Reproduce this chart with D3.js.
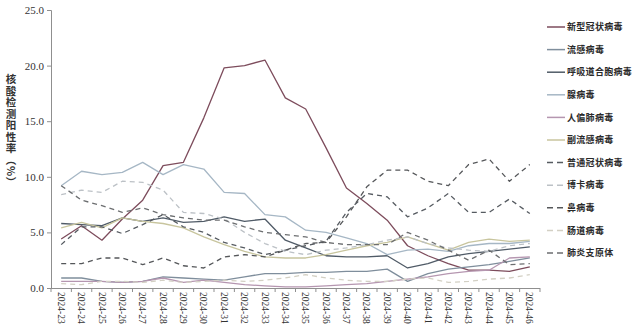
<!DOCTYPE html>
<html>
<head>
<meta charset="utf-8">
<script src="https://cdn.jsdelivr.net/npm/d3@7"></script>
<style>
  html, body { margin: 0; padding: 0; background: #fff; }
  svg { display: block; }
</style>
</head>
<body>
<svg id="chart" width="636" height="326"></svg>
<script>
// Weekly categories (2024 week 23 to week 46)
const weeks = ["2024-23","2024-24","2024-25","2024-26","2024-27","2024-28","2024-29",
  "2024-30","2024-31","2024-32","2024-33","2024-34","2024-35","2024-36","2024-37",
  "2024-38","2024-39","2024-40","2024-41","2024-42","2024-43","2024-44","2024-45","2024-46"];

const yTicks = [0, 5, 10, 15, 20, 25];

const seriesNames = ["新型冠状病毒","流感病毒","呼吸道合胞病毒","腺病毒","人偏肺病毒","副流感病毒",
  "普通冠状病毒","博卡病毒","鼻病毒","肠道病毒","肺炎支原体"];

// Positive rates (%) per week
const covid   = [4.4,5.6,4.3,6.2,7.9,11.0,11.3,15.3,19.8,20.0,20.5,17.1,16.1,12.6,9.0,7.6,6.1,3.8,2.9,2.2,1.6,1.6,1.5,1.9];
const flu     = [0.9,0.9,0.6,0.5,0.6,1.0,0.9,0.8,0.7,1.0,1.3,1.3,1.4,1.4,1.5,1.5,1.7,0.6,1.3,1.7,1.9,2.1,2.4,2.7];
const rsv     = [5.8,5.7,5.6,6.3,6.0,6.3,5.9,6.0,6.4,6.0,6.2,4.3,3.6,2.9,2.8,2.8,2.9,1.8,2.2,2.8,3.1,3.3,3.5,3.7];
const adeno   = [9.2,10.5,10.2,10.4,11.3,10.2,11.1,10.7,8.6,8.5,6.6,6.4,5.2,5.0,4.5,4.0,3.0,3.4,3.5,3.3,3.8,4.0,4.0,4.2];
const hmpv    = [0.6,0.6,0.6,0.5,0.6,0.9,0.5,0.7,0.5,0.3,0.2,0.1,0.1,0.2,0.3,0.4,0.6,0.8,1.0,1.3,1.5,1.6,2.7,2.8];
const paraflu = [5.4,5.9,5.4,6.3,6.0,5.8,5.4,4.6,3.9,3.3,2.8,2.7,2.7,3.0,3.4,3.8,4.1,4.6,4.0,3.4,4.1,4.4,4.2,4.3];
const hcov    = [3.9,5.5,5.5,4.9,5.7,6.6,5.5,5.0,4.1,3.6,3.0,3.4,3.8,4.2,6.8,8.5,8.2,6.4,7.2,8.5,6.8,6.8,8.0,6.7];
const boca    = [8.4,8.8,8.6,9.6,9.5,8.8,6.8,6.7,6.2,5.0,4.0,3.3,3.0,3.4,3.6,3.9,4.3,4.6,4.0,3.6,3.4,3.3,3.8,4.0];
const rhino   = [2.2,2.2,2.7,2.7,2.1,2.7,2.0,1.8,2.8,3.0,2.8,3.4,4.0,4.1,6.4,9.1,10.6,10.6,9.6,9.2,11.1,11.6,9.6,11.1];
const entero  = [0.4,0.3,0.6,0.6,0.5,0.7,0.5,0.6,0.7,0.6,0.7,0.9,1.2,0.9,0.7,0.6,0.6,0.8,0.9,0.5,0.6,0.8,0.9,1.2];
const myco    = [9.2,7.9,7.4,6.8,7.2,6.6,6.3,6.1,6.1,5.5,5.0,4.8,4.6,4.1,3.9,3.9,3.9,5.0,4.3,3.4,2.5,3.4,2.1,2.2];

const seriesValues = [covid, flu, rsv, adeno, hmpv, paraflu, hcov, boca, rhino, entero, myco];
const seriesColors = ["#7d4c5c","#7f8e9c","#505b67","#a6b7c5","#b596b0","#c8c59e",
  "#565b61","#bcc1c6","#55575a","#d3d0c4","#6c6e70"];
const seriesDashed = [false,false,false,false,false,false,true,true,true,true,true];

const svg = d3.select("#chart");
const plot = { left: 51, right: 540, top: 10, bottom: 288 };

const x = d3.scaleBand().domain(weeks).range([plot.left, plot.right]).padding(0);
const y = d3.scaleLinear().domain([0, 25]).range([plot.bottom, plot.top]);
const cx = w => x(w) + x.bandwidth() / 2;

const axisColor = "#8f8f8f";
const serif = "'Liberation Serif','DejaVu Serif',serif";

// Y axis
const yAxis = svg.append("g")
  .attr("transform", `translate(${plot.left},0)`)
  .call(d3.axisLeft(y).tickValues(yTicks).tickFormat(d3.format(".1f")).tickSize(4).tickPadding(3));
yAxis.select(".domain").attr("stroke", axisColor);
yAxis.selectAll(".tick line").attr("stroke", axisColor);
yAxis.selectAll(".tick text").attr("fill", "#333").style("font-family", serif).style("font-size", "11px");

// X axis: labels at category centres, tick marks at category edges
const xAxis = svg.append("g")
  .attr("transform", `translate(0,${plot.bottom})`)
  .call(d3.axisBottom(x).tickSize(0).tickPadding(0));
xAxis.select(".domain").attr("stroke", axisColor).attr("d", `M${plot.left},0.5H${plot.right}`);
xAxis.selectAll(".tick text")
  .attr("fill", "#333")
  .style("font-family", serif).style("font-size", "9.5px")
  .attr("text-anchor", "start")
  .attr("transform", "translate(0,4) rotate(90)")
  .attr("x", 0).attr("y", 0).attr("dy", "0.35em");
const edges = weeks.map(w => x(w)).concat([plot.right]);
xAxis.selectAll(".edge").data(edges).join("line")
  .attr("class", "edge")
  .attr("x1", d => d).attr("x2", d => d)
  .attr("y1", 0).attr("y2", 4)
  .attr("stroke", axisColor);

// Series lines
const line = d3.line().x((d, i) => cx(weeks[i])).y(d => y(d));
const lines = svg.append("g");
seriesValues.forEach((vals, k) => {
  lines.append("path")
    .datum(vals)
    .attr("d", line)
    .attr("fill", "none")
    .attr("stroke", seriesColors[k])
    .attr("stroke-width", 1.3)
    .attr("stroke-linejoin", "round")
    .attr("stroke-dasharray", seriesDashed[k] ? "5,4" : null);
});

// Y axis title, written vertically
svg.append("text")
  .attr("x", 11).attr("y", 74)
  .style("writing-mode", "vertical-rl")
  .style("font-family", "'Noto Sans CJK SC',sans-serif")
  .style("font-size", "10.5px")
  .style("font-weight", "bold")
  .style("letter-spacing", "1px")
  .attr("fill", "#333")
  .text("核酸检测阳性率（%）");

// Legend
const legend = svg.append("g").attr("transform", "translate(547,27)");
seriesNames.forEach((name, k) => {
  const g = legend.append("g").attr("transform", `translate(0,${k * 22.6})`);
  g.append("line")
    .attr("x1", 0).attr("x2", 18).attr("y1", 0).attr("y2", 0)
    .attr("stroke", seriesColors[k]).attr("stroke-width", 1.5)
    .attr("stroke-dasharray", seriesDashed[k] ? "6,4" : null);
  g.append("text")
    .attr("x", 20).attr("y", 0).attr("dy", "0.35em")
    .style("font-family", "'Noto Sans CJK SC',sans-serif")
    .style("font-size", "9px")
    .style("font-weight", "bold")
    .style("letter-spacing", "0.3px")
    .attr("fill", "#2a2a2a")
    .text(name);
});
</script>
</body>
</html>
